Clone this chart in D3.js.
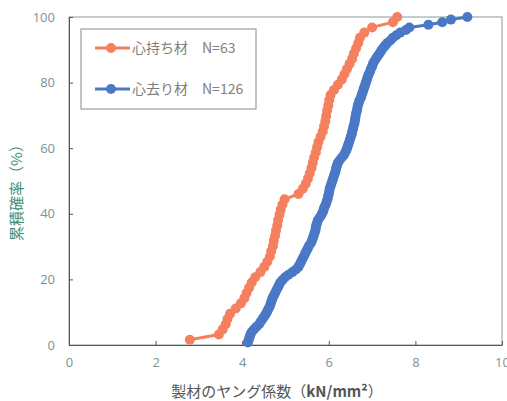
<!DOCTYPE html>
<html>
<head>
<meta charset="utf-8">
<script src="https://cdnjs.cloudflare.com/ajax/libs/d3/7.8.5/d3.min.js"></script>
<style>
	body { margin: 0; background: #fff; }
	text { font-family: "Noto Sans CJK JP", "Noto Sans", sans-serif; }
</style>
</head>
<body>
<div id="chart"></div>
<script>
// Young's modulus values (kN/mm2), sorted
const shinmochi = [
	2.79, 3.46, 3.55, 3.62, 3.66, 3.72, 3.85, 3.97, 4.05, 4.10,
	4.16, 4.22, 4.30, 4.42, 4.51, 4.58, 4.64, 4.67, 4.71, 4.73,
	4.76, 4.78, 4.81, 4.83, 4.86, 4.89, 4.93, 4.98, 5.30, 5.40,
	5.47, 5.52, 5.56, 5.60, 5.63, 5.66, 5.70, 5.73, 5.76, 5.81,
	5.86, 5.89, 5.92, 5.94, 5.96, 5.99, 6.01, 6.04, 6.12, 6.21,
	6.30, 6.36, 6.42, 6.48, 6.54, 6.58, 6.63, 6.68, 6.72, 6.82,
	7.00, 7.48, 7.58
];
const shinsari = [
	4.13, 4.15, 4.17, 4.19, 4.22, 4.27, 4.33, 4.39, 4.43, 4.47,
	4.51, 4.55, 4.58, 4.61, 4.64, 4.66, 4.68, 4.70, 4.73, 4.76,
	4.79, 4.82, 4.85, 4.88, 4.93, 4.99, 5.07, 5.16, 5.24, 5.30,
	5.33, 5.36, 5.39, 5.42, 5.45, 5.48, 5.51, 5.54, 5.58, 5.61,
	5.63, 5.65, 5.67, 5.69, 5.70, 5.71, 5.73, 5.75, 5.79, 5.83,
	5.86, 5.88, 5.90, 5.93, 5.95, 5.97, 5.98, 6.00, 6.01, 6.02,
	6.04, 6.06, 6.08, 6.10, 6.12, 6.14, 6.16, 6.17, 6.19, 6.21,
	6.25, 6.30, 6.35, 6.38, 6.41, 6.43, 6.45, 6.47, 6.49, 6.51,
	6.53, 6.54, 6.56, 6.57, 6.59, 6.60, 6.61, 6.62, 6.63, 6.65,
	6.66, 6.67, 6.69, 6.71, 6.74, 6.76, 6.78, 6.80, 6.82, 6.84,
	6.86, 6.88, 6.90, 6.92, 6.95, 6.97, 7.00, 7.02, 7.05, 7.09,
	7.13, 7.17, 7.21, 7.25, 7.30, 7.35, 7.42, 7.48, 7.56, 7.65,
	7.78, 7.86, 8.30, 8.62, 8.82, 9.20
];
const seriesNames = ["心持ち材　N=63", "心去り材　N=126"];
const seriesColors = ["#f4805e", "#4a78c6"];
const xTicks = [0, 2, 4, 6, 8, 10];
const yTicks = [0, 20, 40, 60, 80, 100];

const width = 507,
	height = 401,
	margin = {top: 17, right: 5, bottom: 56, left: 69};

const x = d3.scaleLinear()
	.domain([0, 10])
	.range([margin.left, width - margin.right]);
const y = d3.scaleLinear()
	.domain([0, 100])
	.range([height - margin.bottom, margin.top]);

const svg = d3.select("#chart").append("svg")
	.attr("width", width)
	.attr("height", height);

// plot frame
svg.append("rect")
	.attr("x", x(0))
	.attr("y", y(100))
	.attr("width", x(10) - x(0))
	.attr("height", y(0) - y(100))
	.attr("fill", "none")
	.attr("stroke", "#8a9a9a")
	.attr("stroke-width", 1);

// axes, ticks pointing inward
svg.append("g")
	.attr("transform", "translate(0," + y(0) + ")")
	.call(d3.axisBottom(x).tickValues(xTicks).tickSizeInner(-4).tickSizeOuter(0).tickPadding(13))
	.call(g => g.select(".domain").attr("stroke", "#555"))
	.call(g => g.selectAll(".tick line").attr("stroke", "#555"))
	.call(g => g.selectAll(".tick text")
		.attr("fill", "#7a9494")
		.attr("font-size", 13)
		.style("font-family", "'Open Sans', sans-serif"));

svg.append("g")
	.attr("transform", "translate(" + x(0) + ",0)")
	.call(d3.axisLeft(y).tickValues(yTicks).tickSizeInner(-4).tickSizeOuter(0).tickPadding(14))
	.call(g => g.select(".domain").attr("stroke", "#555"))
	.call(g => g.selectAll(".tick line").attr("stroke", "#555"))
	.call(g => g.selectAll(".tick text")
		.attr("fill", "#7a9494")
		.attr("font-size", 13)
		.style("font-family", "'Open Sans', sans-serif"));

// axis titles
svg.append("text")
	.attr("text-anchor", "middle")
	.attr("transform", "translate(22," + (y(50) + 8) + ") rotate(-90)")
	.attr("font-size", 15)
	.attr("fill", "#3f8f78")
	.text("累積確率（%）");

const xTitle = svg.append("text")
	.attr("text-anchor", "middle")
	.attr("x", 277)
	.attr("y", 397)
	.attr("font-size", 15)
	.attr("fill", "#555");
xTitle.append("tspan").text("製材のヤング係数（");
xTitle.append("tspan").attr("font-weight", "bold").text("kN/mm²");
xTitle.append("tspan").text("）");

// cumulative curves
const line = d3.line()
	.x(d => x(d[0]))
	.y(d => y(d[1]));

[shinsari, shinmochi].forEach((vals, k) => {
	const color = seriesColors[1 - k];
	const pts = vals.map((v, i) => [v, (i + 1) / vals.length * 100]);
	svg.append("path")
		.datum(pts)
		.attr("fill", "none")
		.attr("stroke", color)
		.attr("stroke-width", 3)
		.attr("d", line);
	svg.append("g").selectAll("circle")
		.data(pts)
		.enter()
		.append("circle")
		.attr("cx", d => x(d[0]))
		.attr("cy", d => y(d[1]))
		.attr("r", 5)
		.attr("fill", color);
});

// legend
const legend = svg.append("g");
legend.append("rect")
	.attr("x", 81)
	.attr("y", 29)
	.attr("width", 175)
	.attr("height", 80)
	.attr("fill", "#fff")
	.attr("stroke", "#8a8a8a")
	.attr("stroke-width", 1);

const rows = legend.selectAll("g.row")
	.data(seriesNames)
	.enter()
	.append("g")
	.attr("class", "row")
	.attr("transform", (d, i) => "translate(0," + (48 + i * 41) + ")");
rows.append("line")
	.attr("x1", 95)
	.attr("x2", 130)
	.attr("stroke", (d, i) => seriesColors[i])
	.attr("stroke-width", 3);
rows.append("circle")
	.attr("cx", 111)
	.attr("r", 5)
	.attr("fill", (d, i) => seriesColors[i]);
rows.append("text")
	.attr("x", 132)
	.attr("dy", "0.36em")
	.attr("font-size", 14)
	.attr("fill", "#808080")
	.text(d => d);
</script>
</body>
</html>
